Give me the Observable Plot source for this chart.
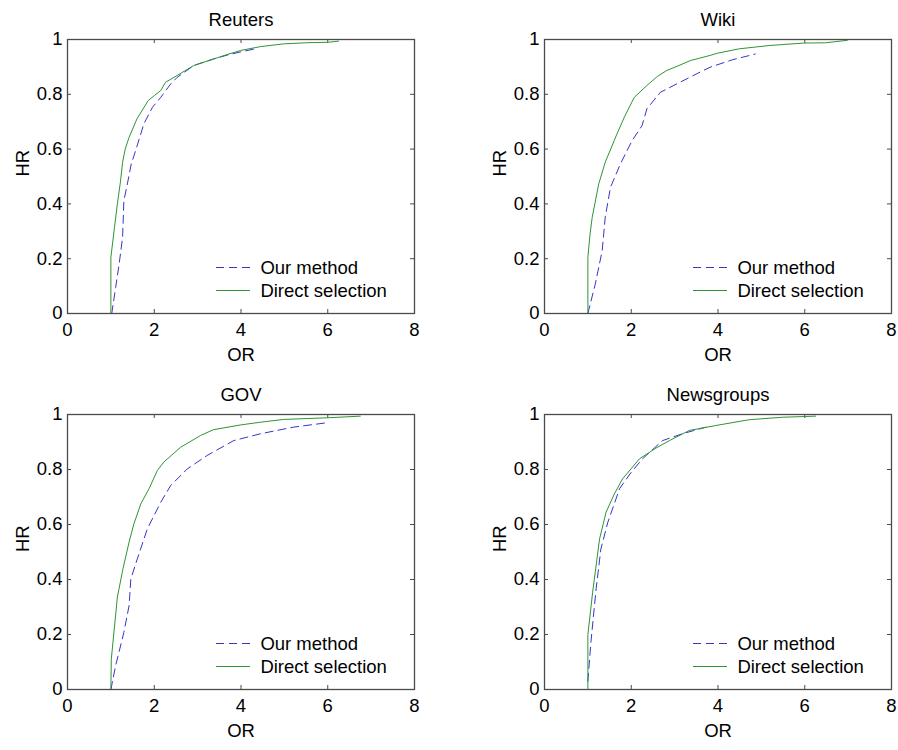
<!DOCTYPE html>
<html><head><meta charset="utf-8">
<script src="https://cdn.jsdelivr.net/npm/d3@7"></script>
<script src="https://cdn.jsdelivr.net/npm/@observablehq/plot@0.6"></script>
<style>
body{margin:0;background:#fff;}
#wrap{position:relative;width:898px;height:750px;background:#fff;}
#wrap svg{position:absolute;}
</style></head><body><div id="wrap"></div>
<script>
// ---- data ----
const panelTitles = ["Reuters", "Wiki", "GOV", "Newsgroups"];
const legendLabels = ["Our method", "Direct selection"];
const xTicks = [0, 2, 4, 6, 8];
const xTickLabels = ["0", "2", "4", "6", "8"];
const yTicks = [0, 0.2, 0.4, 0.6, 0.8, 1];
const yTickLabels = ["0", "0.2", "0.4", "0.6", "0.8", "1"];
const xLabel = "OR";
const yLabel = "HR";

const reutersOurX = [1.02, 1.11, 1.19, 1.27, 1.30, 1.38, 1.47, 1.57, 1.76, 1.96, 2.15, 2.38, 2.53, 2.91, 3.1, 3.37, 3.7, 4.0, 4.33];
const reutersOurY = [0, 0.095, 0.18, 0.278, 0.412, 0.473, 0.546, 0.594, 0.692, 0.753, 0.789, 0.838, 0.862, 0.905, 0.915, 0.929, 0.944, 0.955, 0.966];
const reutersDirX = [1.0, 1.0, 1.08, 1.15, 1.22, 1.27, 1.33, 1.42, 1.6, 1.86, 2.0, 2.15, 2.26, 2.5, 2.72, 2.91, 3.1, 3.37, 3.7, 3.99, 4.45, 4.98, 5.5, 6.02, 6.25];
const reutersDirY = [0, 0.205, 0.31, 0.40, 0.48, 0.552, 0.60, 0.643, 0.71, 0.777, 0.795, 0.814, 0.844, 0.866, 0.887, 0.905, 0.915, 0.929, 0.946, 0.960, 0.974, 0.984, 0.988, 0.99, 0.994];

const wikiOurX = [1.0, 1.17, 1.33, 1.40, 1.52, 1.75, 2.02, 2.25, 2.36, 2.67, 3.05, 3.51, 3.82, 4.33, 4.56, 4.86];
const wikiOurY = [0.0, 0.107, 0.229, 0.351, 0.46, 0.546, 0.631, 0.686, 0.747, 0.807, 0.838, 0.875, 0.899, 0.926, 0.935, 0.947];
const wikiDirX = [1.0, 1.0, 1.05, 1.10, 1.25, 1.40, 1.67, 1.85, 2.07, 2.36, 2.6, 2.82, 3.1, 3.36, 3.82, 3.99, 4.49, 5.18, 5.98, 6.48, 6.98];
const wikiDirY = [0, 0.205, 0.29, 0.351, 0.473, 0.552, 0.655, 0.72, 0.789, 0.832, 0.865, 0.887, 0.905, 0.923, 0.942, 0.950, 0.966, 0.978, 0.987, 0.988, 0.997];

const govOurX = [1.0, 1.11, 1.30, 1.42, 1.46, 1.61, 1.84, 2.15, 2.38, 2.76, 3.22, 3.83, 4.45, 5.21, 5.98];
const govOurY = [0, 0.087, 0.208, 0.305, 0.402, 0.475, 0.584, 0.681, 0.742, 0.802, 0.851, 0.905, 0.93, 0.954, 0.97];
const govDirX = [1.0, 1.01, 1.15, 1.28, 1.42, 1.53, 1.69, 1.88, 2.07, 2.22, 2.61, 3.07, 3.37, 3.99, 4.45, 4.98, 5.98, 6.75];
const govDirY = [0, 0.11, 0.336, 0.44, 0.536, 0.602, 0.675, 0.73, 0.796, 0.827, 0.881, 0.924, 0.945, 0.962, 0.972, 0.982, 0.988, 0.994];

const newsOurX = [1.0, 1.07, 1.19, 1.30, 1.46, 1.73, 2.0, 2.26, 2.72, 3.18, 3.72];
const newsOurY = [0.03, 0.172, 0.366, 0.511, 0.608, 0.73, 0.79, 0.839, 0.905, 0.93, 0.954];
const newsDirX = [1.0, 1.0, 1.11, 1.27, 1.42, 1.61, 1.80, 2.19, 2.57, 2.88, 3.34, 3.95, 4.72, 5.48, 6.25];
const newsDirY = [0, 0.2, 0.354, 0.548, 0.645, 0.711, 0.766, 0.839, 0.878, 0.905, 0.942, 0.96, 0.981, 0.99, 0.994];

// ---- style ----
const FONT = "'Liberation Sans', Arial, Helvetica, sans-serif";
const FS = 18.5;
const BLUE = "#3535c8";
const GREEN = "#2e9436";
const FRAME = "#4a4a4a";
const DASH = "8,5";

const pairs = (xs, ys) => xs.map((x, i) => ({x, y: ys[i]}));

function panel(title, ourX, ourY, dirX, dirY, left, top, mL, mR, mT, mB) {
  const W = 449, H = 375;
  const pw = W - mL - mR, ph = H - mT - mB;
  const svg = Plot.plot({
    width: W, height: H,
    marginLeft: mL, marginRight: mR, marginTop: mT, marginBottom: mB,
    style: {fontFamily: FONT, fontSize: FS + "px", color: "#000", background: "transparent", overflow: "visible"},
    x: {domain: [0, 8]},
    y: {domain: [0, 1]},
    marks: [
      Plot.axisX(xTicks, {anchor: "bottom", tickSize: 0, tickPadding: 9, label: null, fontSize: FS, tickFormat: (d, i) => xTickLabels[i]}),
      Plot.axisY(yTicks, {anchor: "left", tickSize: 0, tickPadding: 5, label: null, fontSize: FS, tickFormat: (d, i) => yTickLabels[i]}),
      Plot.tickX(xTicks, {insetTop: ph - 4, stroke: FRAME}),
      Plot.tickX(xTicks, {insetBottom: ph - 4, stroke: FRAME}),
      Plot.tickY(yTicks, {insetLeft: pw - 4, stroke: FRAME}),
      Plot.tickY(yTicks, {insetRight: pw - 4, stroke: FRAME}),
      Plot.line(pairs(ourX, ourY), {x: "x", y: "y", stroke: BLUE, strokeWidth: 1, strokeDasharray: DASH}),
      Plot.line(pairs(dirX, dirY), {x: "x", y: "y", stroke: GREEN, strokeWidth: 1}),
      Plot.frame({stroke: FRAME, strokeWidth: 1.3}),
      Plot.text([title], {frameAnchor: "top", lineAnchor: "bottom", dy: -14, fontSize: FS, fill: "#000"}),
      Plot.text([xLabel], {frameAnchor: "bottom", lineAnchor: "bottom", dy: 47, fontSize: FS, fill: "#000"}),
      Plot.text([yLabel], {frameAnchor: "left", lineAnchor: "bottom", rotate: -90, dx: -38.5, fontSize: FS, fill: "#000"})
    ]
  });
  svg.style.left = left + "px";
  svg.style.top = top + "px";
  // legend (no box), anchored to the frame's lower-right corner
  const R = W - mR, B = H - mB;
  const g = d3.select(svg).append("g").attr("font-family", FONT).attr("font-size", FS).attr("text-anchor", "start");
  const entries = [[BLUE, DASH, legendLabels[0], 45.5], [GREEN, null, legendLabels[1], 22.5]];
  for (const [col, dash, lab, off] of entries) {
    const ln = g.append("line").attr("x1", R - 198).attr("x2", R - 164)
      .attr("y1", B - off).attr("y2", B - off).attr("stroke", col).attr("stroke-width", 1);
    if (dash) ln.attr("stroke-dasharray", dash);
    g.append("text").attr("x", R - 153.6).attr("y", B - off).attr("dy", "0.34em")
      .attr("text-anchor", "start").attr("fill", "#000").text(lab);
  }
  document.getElementById("wrap").appendChild(svg);
}

panel(panelTitles[0], reutersOurX, reutersOurY, reutersDirX, reutersDirY, 0, 0, 67, 35, 39, 62);
panel(panelTitles[1], wikiOurX, wikiOurY, wikiDirX, wikiDirY, 449, 0, 95, 7, 39, 62);
panel(panelTitles[2], govOurX, govOurY, govDirX, govDirY, 0, 375, 67, 35, 39, 61);
panel(panelTitles[3], newsOurX, newsOurY, newsDirX, newsDirY, 449, 375, 95, 7, 39, 61);
</script>
</body></html>
